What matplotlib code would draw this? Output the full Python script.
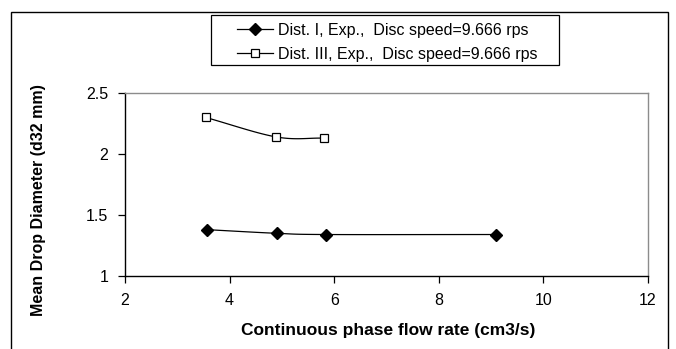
import numpy as np
import matplotlib
matplotlib.use("Agg")
import matplotlib.pyplot as plt
from matplotlib.patches import Rectangle

plt.rcParams['font.family'] = ['Liberation Sans', 'DejaVu Sans']

# Data
flow_dist1 = [3.56, 4.90, 5.84, 9.09]
d32_dist1 = [1.38, 1.35, 1.34, 1.34]
flow_dist3 = [3.54, 4.89, 5.80]
d32_dist3 = [2.30, 2.14, 2.13]

label_dist1 = "Dist. I, Exp.,  Disc speed=9.666 rps"
label_dist3 = "Dist. III, Exp.,  Disc speed=9.666 rps"
x_ticks = [2, 4, 6, 8, 10, 12]
y_ticks = [1, 1.5, 2, 2.5]
y_tick_labels = ["1", "1.5", "2", "2.5"]

W, H = 676, 349


def smooth(x, y, n=40):
    """Catmull-Rom style smoothing through the given points."""
    x = np.asarray(x, float)
    y = np.asarray(y, float)
    if len(x) < 3:
        return x, y
    px = np.concatenate([[2 * x[0] - x[1]], x, [2 * x[-1] - x[-2]]])
    py = np.concatenate([[2 * y[0] - y[1]], y, [2 * y[-1] - y[-2]]])
    xs, ys = [], []
    t = np.linspace(0, 1, n)
    for i in range(1, len(px) - 2):
        p0, p1, p2, p3 = (np.array([px[j], py[j]]) for j in range(i - 1, i + 3))
        c1 = p1 + (p2 - p0) / 6.0
        c2 = p2 - (p3 - p1) / 6.0
        b = ((1 - t) ** 3)[:, None] * p1 + (3 * (1 - t) ** 2 * t)[:, None] * c1 \
            + (3 * (1 - t) * t ** 2)[:, None] * c2 + (t ** 3)[:, None] * p2
        xs.append(b[:, 0])
        ys.append(b[:, 1])
    return np.concatenate(xs), np.concatenate(ys)


fig = plt.figure(figsize=(W / 100, H / 100), dpi=100)
ax = fig.add_axes([125 / W, 1 - 276 / H, 523 / W, 183 / H])

# outer chart border
fig.patches.append(Rectangle((11 / W, -0.01), 657 / W, 1 - 12 / H + 0.01,
                             transform=fig.transFigure, fill=False,
                             edgecolor='black', linewidth=1.0))
# legend box
fig.patches.append(Rectangle((211 / W, 1 - 65 / H), 348 / W, 50 / H,
                             transform=fig.transFigure, fill=False,
                             edgecolor='black', linewidth=0.9))

sx1, sy1 = smooth(flow_dist1, d32_dist1)
sx3, sy3 = smooth(flow_dist3, d32_dist3)
ax.plot(sx1, sy1, color='black', lw=0.9)
ax.plot(sx3, sy3, color='black', lw=0.9)
ax.plot(flow_dist1, d32_dist1, linestyle='none', marker='D', markersize=6,
        color='black')
ax.plot(flow_dist3, d32_dist3, linestyle='none', marker='s', markersize=6,
        markerfacecolor='white', markeredgecolor='black', markeredgewidth=0.9)

# legend handles (line with marker)
h1, = ax.plot([], [], color='black', lw=0.9, marker='D', markersize=6)
h3, = ax.plot([], [], color='black', lw=0.9, marker='s', markersize=6,
              markerfacecolor='white', markeredgewidth=0.9)
leg = fig.legend([h1, h3], [label_dist1, label_dist3], loc='upper left',
                 bbox_to_anchor=(237 / W, 1 - 22.5 / H), borderaxespad=0,
                 fontsize=11.5, frameon=False, handlelength=2.25,
                 handletextpad=0.31, borderpad=0, labelspacing=0.6)

ax.set_xlim(2, 12)
ax.set_ylim(1, 2.5)
ax.set_xticks(x_ticks)
ax.set_xticklabels([str(v) for v in x_ticks])
ax.set_yticks(y_ticks)
ax.set_yticklabels(y_tick_labels)
ax.tick_params(direction='out', length=5, width=0.9, labelsize=11.5)
ax.tick_params(axis='x', pad=7)
ax.tick_params(axis='y', pad=7)

for side in ('left', 'bottom'):
    ax.spines[side].set_color('black')
    ax.spines[side].set_linewidth(1.0)
for side in ('top', 'right'):
    ax.spines[side].set_color('#8c8c8c')
    ax.spines[side].set_linewidth(1.0)

ax.set_xlabel("Continuous phase flow rate (cm3/s)", fontsize=12.5,
              fontweight='bold', va='top', ha='center')
ax.xaxis.set_label_coords((388.5 - 125) / 523, (276 - 323) / 183)
ax.set_ylabel("Mean Drop Diameter (d32 mm)", fontsize=11.5, fontweight='bold',
              va='bottom', ha='center')
ax.yaxis.set_label_coords((46 - 125) / 523, (276 - 200) / 183)

fig.savefig("out.png", dpi=100)
